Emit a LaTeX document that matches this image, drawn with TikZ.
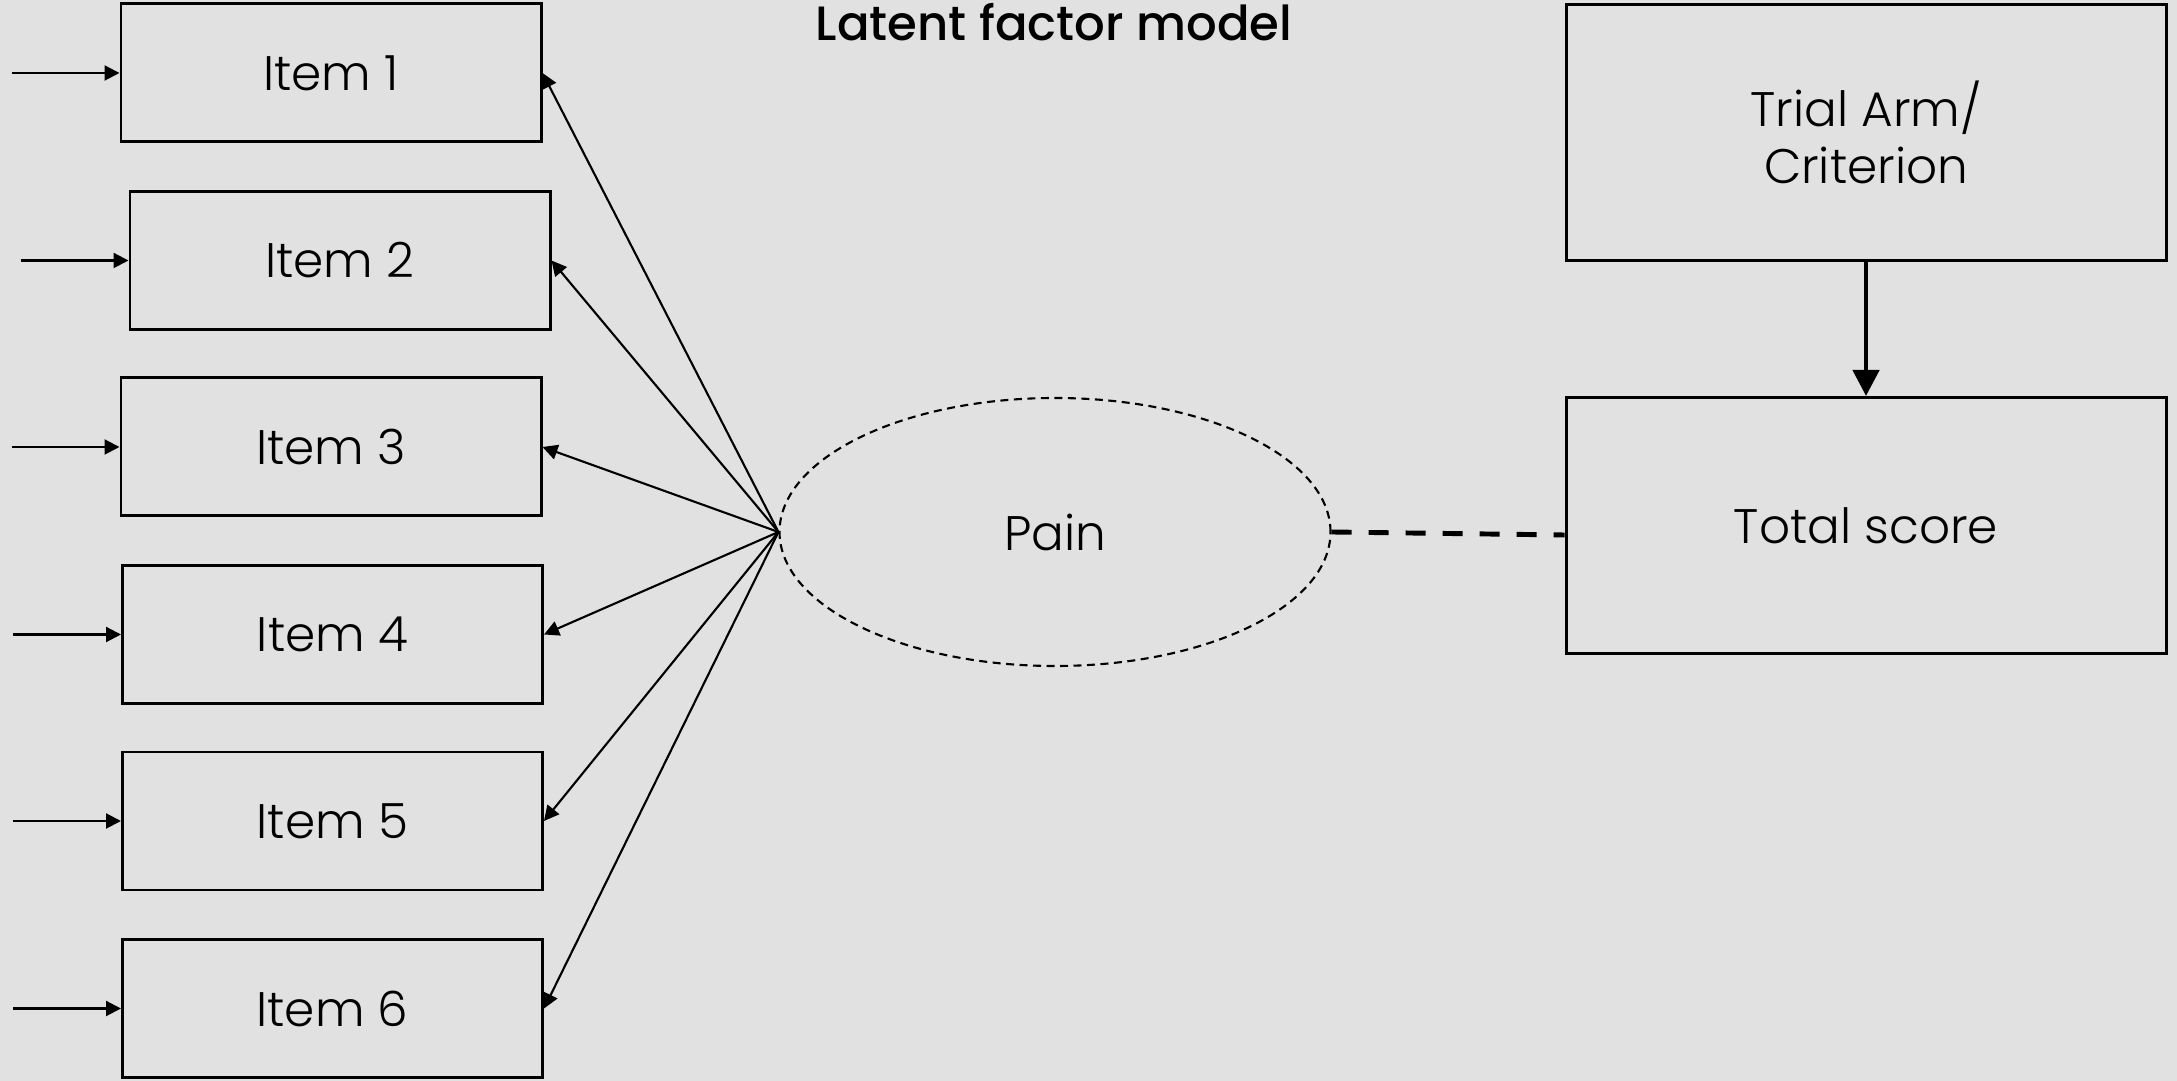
\documentclass[tikz,border=0pt]{standalone}
\usepackage{fontspec}
\setmainfont{Poppins Light}
\newfontfamily\titlefont{Poppins Medium}
\usetikzlibrary{arrows.meta, shapes.geometric}
\definecolor{bgrey}{RGB}{225,225,225}
\tikzset{
	itembox/.style={draw, line width=0.85pt, minimum width=4.2cm, minimum height=1.38cm, font=\fontsize{13.8}{16}\selectfont},
	bigbox/.style={draw, line width=0.85pt, minimum width=6cm, minimum height=2.56cm, align=center, font=\fontsize{13.8}{16.4}\selectfont},
	thinarrow/.style={line width=0.6pt, -{Triangle[length=1.5mm,width=1.5mm]}},
}
\begin{document}
\begin{tikzpicture}
		%background
		\fill[bgrey] (0,0) rectangle (21.77,-10.81);
		\useasboundingbox (0,0) rectangle (21.77,-10.81);
		\node[anchor=base] (title) at (10.54, -0.41){\titlefont\fontsize{13.7}{16}\selectfont Latent factor model};

		%items and their error arrows
		\foreach \i/\x/\y in {1/3.31/-0.73, 2/3.40/-2.605, 3/3.31/-4.47, 4/3.325/-6.345, 5/3.325/-8.21, 6/3.325/-10.085}{
			\node[itembox] (item\i) at (\x, \y){Item \i};
			\coordinate (err\i) at ([xshift=-1.08cm]item\i.west);
			\draw[thinarrow] (err\i) -- (item\i.west);
		}

		%latent factor
		\node[draw, ellipse, dash pattern=on 0.8mm off 0.55mm, line width=0.6pt, minimum width=5.51cm, minimum height=2.68cm, font=\fontsize{13.8}{16}\selectfont] (pain) at (10.55, -5.32){Pain};
		\foreach \i in {1, 2, ..., 6}{
			\draw[thinarrow] (pain.west) -- (item\i.east);
		}

		%score side
		\node[bigbox] (trial) at (18.66, -1.325){Trial Arm/\\Criterion};
		\node[bigbox] (total) at (18.66, -5.255){Total score};
		\draw[line width=1.3pt, -{Triangle[length=2.6mm,width=2.6mm]}] (trial) -- (total);
		\draw[line width=1.4pt, dash pattern=on 2mm off 1.7mm] (pain.east) -- ([yshift=-0.03cm]pain.east -| total.west);
		\end{tikzpicture}
\end{document}
